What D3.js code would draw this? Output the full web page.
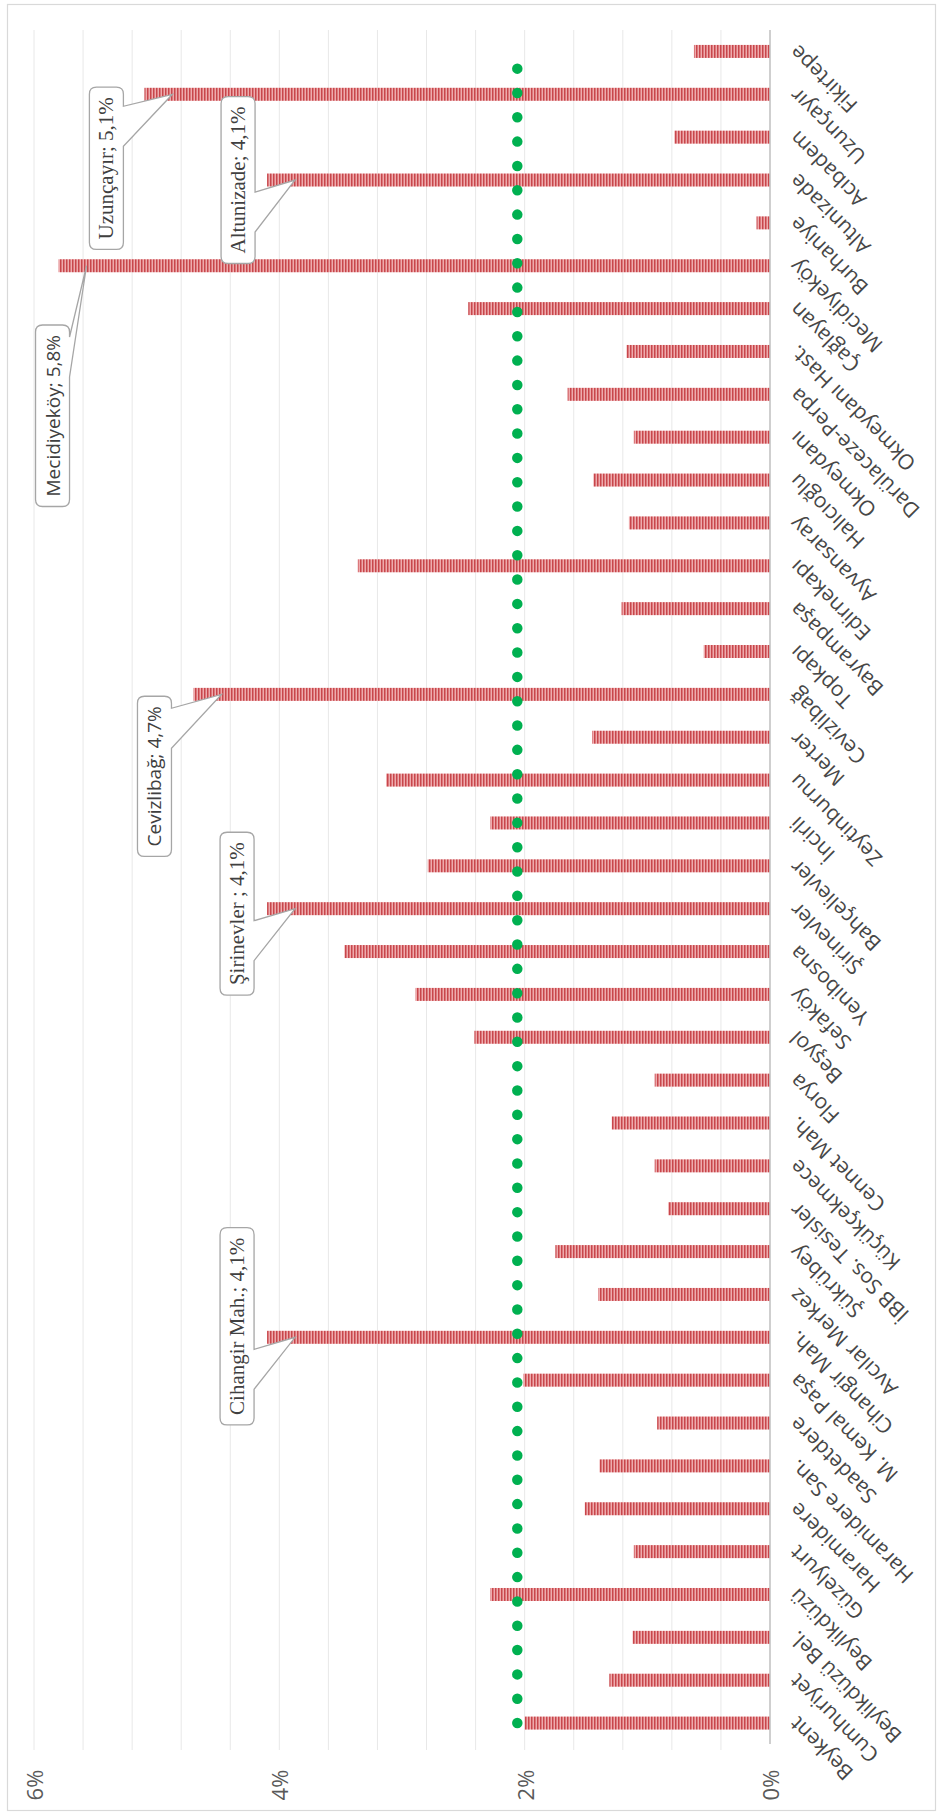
<!DOCTYPE html>
<html>
<head>
<meta charset="utf-8">
<script src="https://cdn.jsdelivr.net/npm/d3@7"></script>
<style>
  html, body { margin: 0; padding: 0; background: #ffffff; }
  svg { display: block; }
</style>
</head>
<body>
<div id="chart"></div>
<script>
// Station names, in route order (Beykent → Fikirtepe)
const stations = [
  "Beykent", "Cumhuriyet", "Beylikdüzü Bel.", "Beylikdüzü", "Güzelyurt",
  "Haramidere", "Haramidere San.", "Saadetdere", "M. Kemal Paşa", "Cihangir Mah.",
  "Avcılar Merkez", "Şükrübey", "İBB Sos. Tesisler", "Küçükçekmece", "Cennet Mah.",
  "Florya", "Beşyol", "Sefaköy", "Yenibosna", "Şirinevler",
  "Bahçelievler", "İncirli", "Zeytinburnu", "Merter", "Cevizlibağ",
  "Topkapı", "Bayrampaşa", "Edirnekapı", "Ayvansaray", "Halıcıoğlu",
  "Okmeydanı", "Darülaceze-Perpa", "Okmeydanı Hast.", "Çağlayan", "Mecidiyeköy",
  "Burhaniye", "Altunizade", "Acıbadem", "Uzunçayır", "Fikirtepe"
];

// Share of each station
const shares = [
  0.0200, 0.0131, 0.0112, 0.0228, 0.0111,
  0.0151, 0.0139, 0.0092, 0.0201, 0.0410,
  0.0140, 0.0175, 0.0083, 0.0094, 0.0129,
  0.0094, 0.0241, 0.0289, 0.0347, 0.0410,
  0.0279, 0.0228, 0.0313, 0.0145, 0.0470,
  0.0054, 0.0121, 0.0336, 0.0115, 0.0144,
  0.0111, 0.0165, 0.0117, 0.0246, 0.0580,
  0.0011, 0.0410, 0.0078, 0.0510, 0.0062
];

// Average share (dotted reference line)
const averageShare = [0.0206];

// Value axis
const valueTicks = [0, 0.02, 0.04, 0.06];
const valueTickLabels = ["0%", "2%", "4%", "6%"];
const gridValues = [0, 0.004, 0.008, 0.012, 0.016, 0.02, 0.024, 0.028, 0.032,
                    0.036, 0.04, 0.044, 0.048, 0.052, 0.056, 0.06];

// Highlighted stations with their callout texts
const calloutStations = ["Uzunçayır", "Altunizade", "Mecidiyeköy", "Cevizlibağ", "Şirinevler", "Cihangir Mah."];
const calloutTexts = ["Uzunçayır; 5,1%", "Altunizade; 4,1%", "Mecidiyeköy; 5,8%", "Cevizlibağ; 4,7%", "Şirinevler ; 4,1%", "Cihangir Mah.; 4,1%"];

// ---- layout ----
const W = 937, H = 1818;
const calloutStyle = {
  "Uzunçayır":     { dx: -66, dy: 74,  serif: true },
  "Altunizade":    { dx: -57, dy: 0,   serif: true },
  "Mecidiyeköy":   { dx: -34, dy: 150, serif: false },
  "Cevizlibağ":    { dx: -67, dy: 82,  serif: false },
  "Şirinevler":    { dx: -58, dy: 5,   serif: true },
  "Cihangir Mah.": { dx: -58, dy: -11, serif: true }
};

const svg = d3.select("#chart").append("svg")
  .attr("width", W).attr("height", H)
  .attr("viewBox", `0 0 ${W} ${H}`);

svg.append("rect").attr("width", W).attr("height", H).attr("fill", "#ffffff");

// chart frame
svg.append("rect")
  .attr("x", 7.5).attr("y", 4.5).attr("width", 928).attr("height", 1806)
  .attr("fill", "none").attr("stroke", "#d9d9d9").attr("stroke-width", 1.2);

const x = d3.scaleLinear().domain([0, 0.06]).range([770, 34]);
const y = d3.scaleBand().domain(stations.slice().reverse()).range([30, 1744.5]).padding(0);
const yc = s => y(s) + y.step() / 2;
const barH = 13;

// striped fill for the bars
const defs = svg.append("defs");
const pat = defs.append("pattern")
  .attr("id", "stripes").attr("patternUnits", "userSpaceOnUse")
  .attr("width", 3).attr("height", 20);
pat.append("rect").attr("width", 3).attr("height", 20).attr("fill", "#eeabad");
pat.append("rect").attr("width", 1.5).attr("height", 20).attr("fill", "#c8464b");

// vertical gridlines
svg.append("g").selectAll("line").data(gridValues.filter(v => v > 0)).join("line")
  .attr("x1", d => x(d)).attr("x2", d => x(d))
  .attr("y1", 30).attr("y2", 1750)
  .attr("stroke", "#e8e8e8").attr("stroke-width", 1);

// bars
const data = stations.map((s, i) => ({ station: s, value: shares[i] }));
svg.append("g").selectAll("rect").data(data).join("rect")
  .attr("x", d => x(d.value))
  .attr("width", d => x(0) - x(d.value))
  .attr("y", d => yc(d.station) - barH / 2)
  .attr("height", barH)
  .attr("fill", "url(#stripes)");

// category axis line
svg.append("line")
  .attr("x1", x(0)).attr("x2", x(0)).attr("y1", 30).attr("y2", 1744)
  .attr("stroke", "#bfbfbf").attr("stroke-width", 1.5);

// average line (round dots)
const lineGen = d3.line().x(d => x(d[1])).y(d => yc(d[0]));
svg.append("path")
  .datum([[stations[0], averageShare[0]], [stations[stations.length - 1], averageShare[0]]])
  .attr("d", lineGen)
  .attr("fill", "none").attr("stroke", "#00b050")
  .attr("stroke-width", 10.5).attr("stroke-linecap", "round")
  .attr("stroke-dasharray", "0 24.33");

// category labels
svg.append("g").selectAll("text").data(stations).join("text")
  .attr("transform", d => `translate(${x(0) + 23},${yc(d) - 2}) rotate(-135)`)
  .attr("text-anchor", "end")
  .attr("dominant-baseline", "central")
  .attr("font-family", "'Open Sans', sans-serif")
  .attr("font-size", 21)
  .attr("fill", "#474747")
  .text(d => d);

// value axis labels
svg.append("g").selectAll("text").data(valueTicks).join("text")
  .attr("transform", d => `translate(${x(d)},1785) rotate(-90)`)
  .attr("text-anchor", "middle")
  .attr("dominant-baseline", "central")
  .attr("font-family", "'Open Sans', sans-serif")
  .attr("font-size", 22)
  .attr("fill", "#595959")
  .text((d, i) => valueTickLabels[i]);

// callouts
const cg = svg.append("g");
calloutStations.forEach((s, i) => {
  const v = shares[stations.indexOf(s)];
  const st = calloutStyle[s];
  const tx = x(v) + 28, ty = yc(s);
  const cx = tx + st.dx, cy = ty + st.dy;
  const g = cg.append("g");
  const path = g.append("path");
  const t = g.append("text")
    .attr("transform", `translate(${cx},${cy}) rotate(-90)`)
    .attr("text-anchor", "middle")
    .attr("dominant-baseline", "central")
    .attr("font-family", st.serif ? "'Liberation Serif', serif" : "'Open Sans', sans-serif")
    .attr("font-size", st.serif ? 21 : 19)
    .attr("fill", "#404040")
    .text(calloutTexts[i]);
  const len = t.node().getComputedTextLength();
  const bw = 34, bl = len + 20, r = 7;
  const L = cx - bw / 2, R = cx + bw / 2, T = cy - bl / 2, B = cy + bl / 2;
  let b1 = Math.max(T + 12, ty + 12);
  b1 = Math.min(b1, B - 52);
  const b2 = b1 + 40;
  const d = `M${L + r},${T} H${R - r} Q${R},${T} ${R},${T + r} V${b1} L${tx},${ty} L${R},${b2} V${B - r} Q${R},${B} ${R - r},${B} H${L + r} Q${L},${B} ${L},${B - r} V${T + r} Q${L},${T} ${L + r},${T} Z`;
  path.attr("d", d).attr("fill", "#ffffff").attr("stroke", "#a6a6a6").attr("stroke-width", 1.3);
});
</script>
</body>
</html>
